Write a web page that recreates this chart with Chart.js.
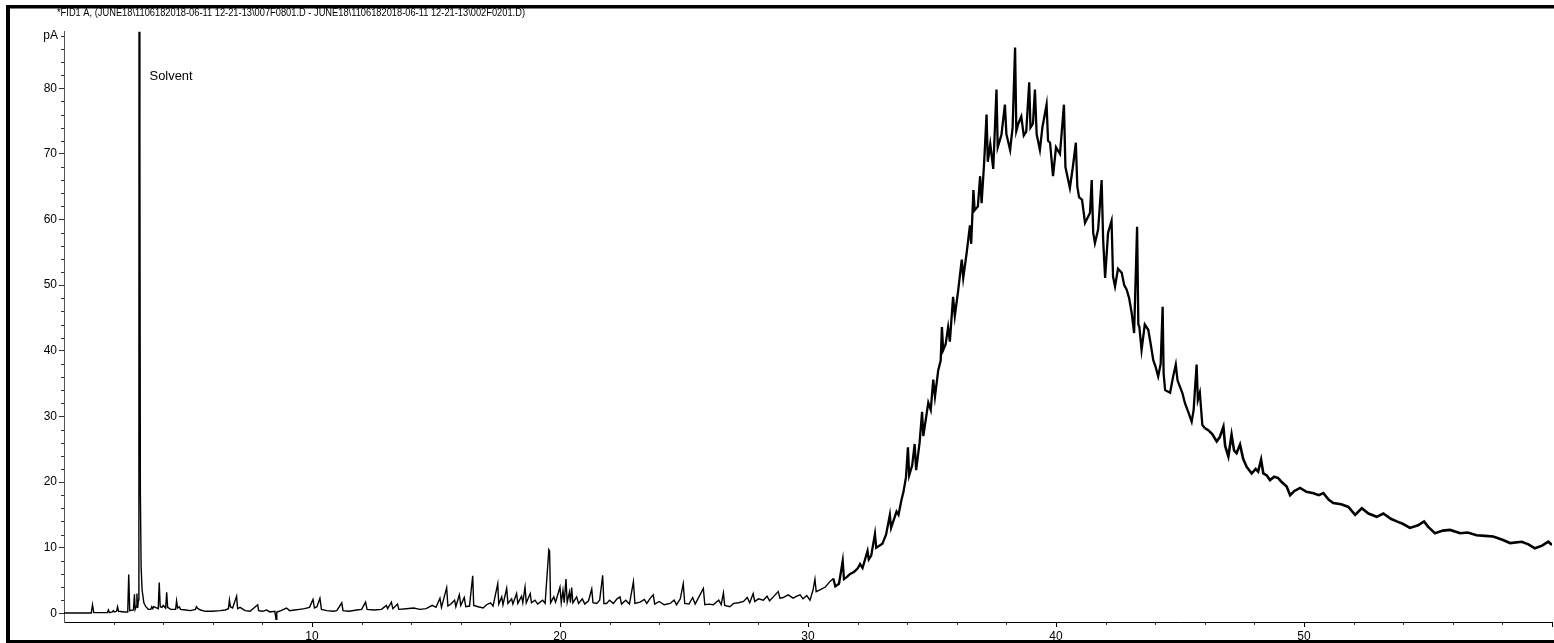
<!DOCTYPE html>
<html>
<head>
<meta charset="utf-8">
<script src="https://cdn.jsdelivr.net/npm/chart.js@4.4.1/dist/chart.umd.min.js"></script>
<style>
  html, body { margin: 0; padding: 0; background: #fff; }
  canvas { display: block; }
</style>
</head>
<body>
<canvas id="fid" width="1554" height="643"></canvas>
<script>
const headerText = "*FID1 A, (JUNE18\\1106182018-06-11 12-21-13\\007F0801.D - JUNE18\\1106182018-06-11 12-21-13\\002F0201.D)";
const peakLabel = "Solvent";
const yUnit = "pA";
const xTicks = [0, 10, 20, 30, 40, 50, 60];
const yTicks = [0, 10, 20, 30, 40, 50, 60, 70, 80];

// retention time (min) / signal (pA) in pieces
const startTimes = [0.00, 0.60, 1.10, 1.15, 1.20, 1.75, 1.79, 1.83, 1.95, 1.99, 2.03, 2.12, 2.16, 2.20, 2.45,
  2.57, 2.61, 2.65, 2.80, 2.84, 2.87, 2.91, 2.94, 2.97, 3.00, 3.02, 3.04, 3.06, 3.08, 3.11, 3.15, 3.22, 3.30,
  3.40, 3.50, 3.54, 3.58, 3.62, 3.80, 3.84, 3.88, 3.95, 4.00, 4.10, 4.14, 4.18, 4.30, 4.50, 4.54, 4.58, 4.65,
  4.70, 4.90, 5.10, 5.30, 5.34, 5.40, 5.50, 5.70, 6.00, 6.30, 6.50, 6.63, 6.67, 6.71, 6.80, 6.96, 7.00, 7.10,
  7.30, 7.50, 7.81, 7.85, 8.00, 8.17, 8.30, 8.50, 8.55, 8.58, 8.75, 8.97, 9.10, 9.30, 9.50, 9.70, 9.90];
const startSignal = [0.05, 0.05, 0.05, 1.3, 0.1, 0.1, 0.5, 0.1, 0.2, 0.4, 0.2, 0.3, 1.0, 0.3, 0.2,
  0.2, 5.9, 0.4, 0.5, 2.9, 0.6, 1.0, 3.0, 0.8, 2.0, 28, 300, 72, 18, 7, 3.5, 1.6, 1.0,
  0.6, 0.6, 1.0, 0.7, 1.0, 0.7, 4.7, 1.0, 0.9, 1.2, 0.8, 3.2, 0.9, 0.6, 0.6, 1.9, 0.8, 1.0,
  0.6, 0.5, 0.4, 0.6, 1.0, 0.7, 0.5, 0.3, 0.3, 0.4, 0.5, 0.7, 2.0, 1.0, 0.8, 2.6, 0.7, 0.9,
  0.4, 0.3, 1.3, 0.4, 0.3, 0.5, 0.2, 0.3, -0.9, 0.2, 0.4, 0.8, 0.4, 0.5, 0.6, 0.7, 0.9];

const grassTimes = [10.04, 10.10, 10.20, 10.32, 10.38, 10.60, 10.85, 11.00, 11.20, 11.25, 11.50, 11.80, 12.00,
  12.16, 12.22, 12.50, 12.80, 13.00, 13.05, 13.20, 13.26, 13.45, 13.50, 13.80, 14.10, 14.35, 14.60, 14.85,
  15.00, 15.16, 15.22, 15.43, 15.48, 15.60, 15.75, 15.80, 15.94, 16.00, 16.14, 16.20, 16.35, 16.48, 16.52,
  16.70, 16.90, 17.04, 17.20, 17.30, 17.49, 17.53, 17.65, 17.70, 17.85, 17.90, 18.05, 18.10, 18.25, 18.30,
  18.45, 18.50, 18.59, 18.64, 18.80, 18.85, 18.99, 19.10, 19.30, 19.40, 19.55, 19.58, 19.62, 19.75, 19.82,
  20.00, 20.05, 20.12, 20.17, 20.24, 20.29, 20.38, 20.42, 20.47, 20.52, 20.67, 20.75, 20.90, 21.00, 21.15,
  21.28, 21.33, 21.48, 21.60, 21.72, 21.77, 21.88, 22.00, 22.15, 22.30, 22.42, 22.48, 22.65, 22.80, 22.96,
  23.02, 23.23, 23.40, 23.50, 23.62, 23.76, 23.82, 24.00, 24.20, 24.44, 24.60, 24.70, 24.85, 24.97, 25.03,
  25.20, 25.35, 25.45, 25.78, 25.84, 26.00, 26.18, 26.40, 26.50, 26.59, 26.64, 26.85, 27.00, 27.20, 27.40,
  27.55, 27.65, 27.79, 27.85, 28.00, 28.20, 28.35, 28.45, 28.60, 28.80, 28.87, 29.00, 29.20, 29.40, 29.55,
  29.68, 29.80, 29.95];
const grassSignal = [2.1, 0.8, 1.0, 2.3, 0.6, 0.4, 0.3, 0.4, 1.6, 0.4, 0.3, 0.5, 0.6,
  1.7, 0.6, 0.5, 0.6, 1.2, 0.7, 1.7, 0.7, 1.4, 0.6, 0.7, 0.8, 0.6, 0.7, 1.2,
  0.9, 2.3, 0.9, 3.9, 1.1, 1.4, 2.0, 1.0, 2.8, 1.2, 2.4, 1.0, 1.1, 5.7, 1.2,
  1.0, 0.8, 1.3, 1.6, 1.1, 4.5, 1.4, 2.5, 1.3, 3.8, 1.5, 2.2, 1.4, 3.0, 1.5,
  2.6, 1.6, 4.0, 1.6, 3.0, 1.6, 2.0, 1.4, 2.0, 1.5, 9.7, 9.5, 1.6, 2.5, 1.7,
  4.0, 1.6, 3.5, 1.6, 5.2, 1.7, 3.2, 1.6, 3.9, 1.6, 2.5, 1.5, 2.2, 1.4, 1.9,
  3.7, 1.6, 1.5, 2.0, 5.8, 1.5, 1.5, 2.0, 1.5, 2.2, 2.5, 1.4, 2.0, 1.4, 4.8,
  1.5, 1.7, 2.1, 1.5, 2.2, 2.8, 1.4, 1.8, 1.3, 1.5, 2.0, 1.3, 2.2, 4.5, 1.5,
  1.4, 2.4, 1.4, 3.8, 1.3, 1.4, 1.3, 2.0, 1.3, 3.1, 1.2, 1.0, 1.5, 1.6, 1.8,
  2.4, 1.6, 3.0, 1.8, 2.2, 2.0, 2.6, 1.9, 2.5, 3.3, 2.3, 2.4, 2.8, 2.3, 2.6,
  2.8, 2.2, 2.7];

const humpTimes = [30.08, 30.20, 30.28, 30.33, 30.50, 30.70, 30.90, 31.02, 31.10, 31.25, 31.40, 31.45, 31.56,
  31.70, 31.85, 32.00, 32.10, 32.20, 32.40, 32.45, 32.55, 32.70, 32.75, 33.00, 33.15, 33.30, 33.35, 33.57,
  33.65, 33.77, 33.85, 33.95, 34.03, 34.08, 34.20, 34.30, 34.36, 34.50, 34.60, 34.65, 34.85, 34.95, 35.05,
  35.12, 35.25, 35.35, 35.40, 35.45, 35.55, 35.65, 35.72, 35.85, 35.92, 36.05, 36.20, 36.26, 36.40, 36.53,
  36.58, 36.67, 36.72, 36.85, 36.94, 37.00, 37.10, 37.20, 37.25, 37.35, 37.47, 37.60, 37.65, 37.80, 37.94,
  38.00, 38.15, 38.25, 38.35, 38.40, 38.48, 38.60, 38.70, 38.80, 38.92, 38.97, 39.07, 39.15, 39.22, 39.35,
  39.45, 39.62, 39.68, 39.76, 39.88, 40.00, 40.16, 40.32, 40.38, 40.56, 40.68, 40.80, 40.86, 40.93, 41.05,
  41.17, 41.37, 41.44, 41.50, 41.57, 41.70, 41.84, 41.90, 41.98, 42.10, 42.24, 42.30, 42.38, 42.50, 42.65,
  42.75, 42.85, 42.95, 43.05, 43.15, 43.27, 43.32, 43.36, 43.45, 43.58, 43.72, 43.82, 43.92, 44.02, 44.12,
  44.22, 44.30, 44.34, 44.40, 44.60, 44.72, 44.83, 44.90, 45.00, 45.10, 45.20, 45.35, 45.47, 45.55, 45.67,
  45.72, 45.80, 45.90];
const humpSignal = [2.0, 3.5, 5.2, 3.3, 3.6, 4.0, 4.9, 5.3, 4.1, 4.5, 8.0, 5.2, 5.5,
  6.0, 6.3, 6.8, 7.5, 6.9, 9.5, 8.2, 8.8, 12.1, 10.0, 10.6, 12.0, 15.0, 13.0, 15.5,
  15.0, 17.3, 18.5, 20.7, 25.3, 21.0, 22.5, 25.8, 21.8, 26.0, 30.7, 27.0, 32.1, 31.0, 35.6,
  33.0, 37.0, 38.5, 43.6, 40.1, 41.0, 43.6, 41.4, 48.2, 45.3, 49.0, 53.9, 51.1, 55.0, 59.1,
  56.3, 64.5, 61.4, 62.0, 66.6, 62.5, 68.5, 76.0, 68.8, 71.5, 67.7, 79.8, 71.0, 72.9, 77.5,
  73.0, 70.6, 74.0, 86.2, 73.5, 74.6, 75.7, 72.8, 73.4, 80.9, 74.0, 74.6, 79.8, 73.0, 70.6,
  74.0, 77.5, 72.0, 71.7, 66.6, 71.0, 70.0, 77.5, 68.0, 64.8, 68.0, 71.7, 65.0, 63.4, 63.0,
  59.5, 61.0, 66.0, 58.0, 56.4, 58.5, 66.0, 57.0, 51.1, 58.0, 59.8, 51.3, 49.8, 52.5, 51.9,
  50.0, 49.3, 48.0, 45.8, 42.7, 58.9, 44.0, 43.7, 40.1, 44.0, 43.2, 41.0, 38.6, 37.5, 36.1,
  38.0, 46.7, 36.5, 34.0, 33.6, 36.0, 37.9, 35.5, 34.5, 33.5, 32.0, 30.5, 29.2, 31.0, 37.9,
  32.5, 33.6, 28.7];

const tailTimes = [46.00, 46.14, 46.30, 46.48, 46.60, 46.75, 46.82, 46.95, 47.08, 47.18, 47.28, 47.42, 47.55,
  47.69, 47.89, 48.05, 48.15, 48.27, 48.36, 48.50, 48.63, 48.80, 48.96, 49.10, 49.30, 49.44, 49.60, 49.84,
  50.10, 50.38, 50.60, 50.78, 51.00, 51.18, 51.50, 51.79, 52.06, 52.33, 52.60, 52.93, 53.20, 53.50, 53.74,
  54.00, 54.27, 54.60, 54.84, 55.00, 55.28, 55.60, 55.89, 56.30, 56.60, 56.96, 57.30, 57.63, 58.00, 58.31,
  58.78, 59.05, 59.31, 59.60, 59.85, 60.00];
const tailSignal = [28.2, 27.9, 27.3, 26.2, 26.8, 28.4, 25.5, 23.9, 27.2, 24.8, 24.4, 25.7, 23.5,
  22.3, 21.3, 22.0, 21.6, 23.4, 21.3, 21.0, 20.3, 20.8, 20.6, 20.0, 19.3, 18.0, 18.6, 19.1,
  18.5, 18.3, 18.0, 18.3, 17.3, 16.8, 16.6, 16.2, 15.0, 16.0, 15.2, 14.7, 15.2, 14.4, 14.0,
  13.6, 13.0, 13.4, 14.0, 13.2, 12.2, 12.6, 12.7, 12.2, 12.3, 11.9, 11.8, 11.7, 11.2, 10.7,
  10.9, 10.5, 9.9, 10.3, 10.9, 10.4];

const times = [...startTimes, ...grassTimes, ...humpTimes, ...tailTimes];
const signal = [...startSignal, ...grassSignal, ...humpSignal, ...tailSignal];

const FONT = '"Liberation Sans", Arial, sans-serif';

// draw text squeezed to a given width (the original uses a very narrow face)
function squeezed(ctx, text, x, y, width, size) {
  ctx.save();
  ctx.font = size + 'px ' + FONT;
  const w = ctx.measureText(text).width;
  ctx.translate(x, y);
  ctx.scale(width / w, 1);
  ctx.textAlign = 'left';
  ctx.textBaseline = 'middle';
  ctx.fillStyle = '#000';
  ctx.fillText(text, 0, 0);
  ctx.restore();
}

const decor = {
  id: 'decor',
  afterDraw(chart) {
    const { ctx, chartArea: a, scales: { x, y } } = chart;
    ctx.save();
    // minor ticks every 2 units
    ctx.strokeStyle = '#333';
    ctx.lineWidth = 1;
    ctx.beginPath();
    for (let v = 2; v <= 88; v += 2) {
      if (v % 10 === 0) continue;
      const py = Math.round(y.getPixelForValue(v)) + 0.5;
      ctx.moveTo(a.left - 3, py);
      ctx.lineTo(a.left, py);
    }
    for (let v = 2; v < 60; v += 2) {
      if (v % 10 === 0) continue;
      const px = Math.round(x.getPixelForValue(v)) + 0.5;
      ctx.moveTo(px, a.bottom);
      ctx.lineTo(px, a.bottom + 3);
    }
    ctx.stroke();

    ctx.fillStyle = '#000';
    ctx.font = '12px ' + FONT;
    ctx.textAlign = 'right';
    ctx.textBaseline = 'middle';
    ctx.fillText(yUnit, a.left - 6, y.getPixelForValue(88));

    squeezed(ctx, peakLabel, x.getPixelForValue(3.45), y.getPixelForValue(81.8), 43, 13);
    squeezed(ctx, headerText, 57, 13, 468, 11);

    // frame
    ctx.fillStyle = '#000';
    ctx.fillRect(6, 5, 4, 638);
    ctx.fillRect(6, 5, 1548, 3.5);
    ctx.fillRect(6, 640, 1548, 3);
    ctx.restore();
  }
};

new Chart(document.getElementById('fid'), {
  type: 'line',
  data: {
    datasets: [{
      data: times.map((t, i) => ({ x: t, y: signal[i] })),
      borderColor: '#000',
      borderWidth: 1.4,
      pointRadius: 0,
      tension: 0,
      fill: false,
      segment: {
        borderWidth: c => c.p0.parsed.x >= 46 ? 2.6 : (c.p0.parsed.x >= 31 ? 2.3 : 1.4)
      }
    }]
  },
  options: {
    responsive: false,
    animation: false,
    devicePixelRatio: 1,
    layout: { padding: { left: 0, right: 2, top: 31.7, bottom: 0 } },
    plugins: { legend: { display: false }, tooltip: { enabled: false } },
    scales: {
      x: {
        type: 'linear',
        min: 0,
        max: 60,
        afterBuildTicks: s => { s.ticks = xTicks.map(v => ({ value: v })); },
        afterFit: s => { s.height = 21; },
        border: { color: '#000', width: 1 },
        grid: {
          drawOnChartArea: false,
          tickLength: 5,
          tickColor: c => (c.tick && c.tick.value === 0) ? 'rgba(0,0,0,0)' : '#000'
        },
        ticks: {
          autoSkip: false,
          maxRotation: 0,
          padding: 2,
          color: '#000',
          font: { family: FONT, size: 12 },
          callback: v => (v > 0 && v < 60) ? String(v) : ''
        }
      },
      y: {
        type: 'linear',
        min: -1.33,
        max: 88.62,
        afterBuildTicks: s => { s.ticks = yTicks.map(v => ({ value: v })); },
        afterFit: s => { s.width = 64; },
        border: { color: '#555', width: 1 },
        grid: { drawOnChartArea: false, tickLength: 5, tickColor: '#333' },
        ticks: {
          padding: 2,
          color: '#000',
          font: { family: FONT, size: 12 },
          callback: v => String(v)
        }
      }
    }
  },
  plugins: [decor]
});
</script>
</body>
</html>
